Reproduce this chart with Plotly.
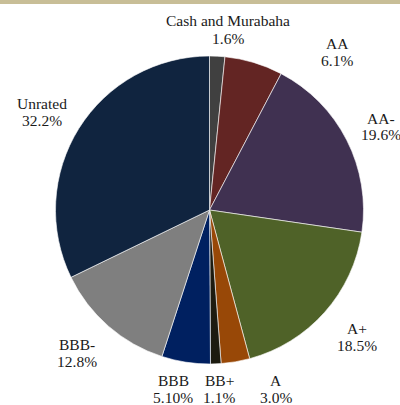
import plotly.graph_objects as go

categories = ["Cash and Murabaha", "AA", "AA-", "A+", "A", "BB+", "BBB", "BBB-", "Unrated"]
values = [1.6, 6.1, 19.6, 18.5, 3.0, 1.1, 5.1, 12.8, 32.2]
value_labels = ["1.6%", "6.1%", "19.6%", "18.5%", "3.0%", "1.1%", "5.10%", "12.8%", "32.2%"]

colors = ["#404040", "#632523", "#403151", "#4F6228", "#984807",
          "#1D1B10", "#002060", "#7F7F7F", "#10243F"]

# label placement: (x center, y of first line) in pixels of a 400x405 canvas
label_pos = [(228, 21), (337, 43), (381, 118), (357, 328), (276, 380),
             (219, 380), (173, 380), (77, 344), (42, 103)]
line_gap = 17

W, H = 400, 405
cx, cy, r = 209.5, 210, 154

fig = go.Figure(go.Pie(
    labels=categories,
    values=values,
    sort=False,
    direction="clockwise",
    rotation=0,
    textinfo="none",
    hoverinfo="label+percent",
    marker=dict(colors=colors, line=dict(color="#FFFFFF", width=0.6)),
    domain=dict(x=[(cx - r) / W, (cx + r) / W], y=[1 - (cy + r) / H, 1 - (cy - r) / H]),
    showlegend=False,
))

font = dict(family="Liberation Serif", size=15.5, color="#1A1A1A")
for cat, lab, (px, py) in zip(categories, value_labels, label_pos):
    for i, t in enumerate((cat, lab)):
        fig.add_annotation(
            x=px / W, y=1 - (py + i * line_gap) / H, xref="paper", yref="paper",
            text=t, showarrow=False, xanchor="center", yanchor="middle",
            font=font,
        )

fig.add_shape(type="rect", xref="paper", yref="paper",
              x0=0, x1=1, y0=1 - 4 / H, y1=1,
              fillcolor="#C8BE97", line=dict(width=0), layer="above")

fig.update_layout(
    width=W, height=H,
    margin=dict(l=0, r=0, t=0, b=0),
    paper_bgcolor="white",
    plot_bgcolor="white",
)

fig.write_html("out.html", config={"displayModeBar": False},
               post_script="document.body.style.margin='0';document.body.style.overflow='hidden';")
